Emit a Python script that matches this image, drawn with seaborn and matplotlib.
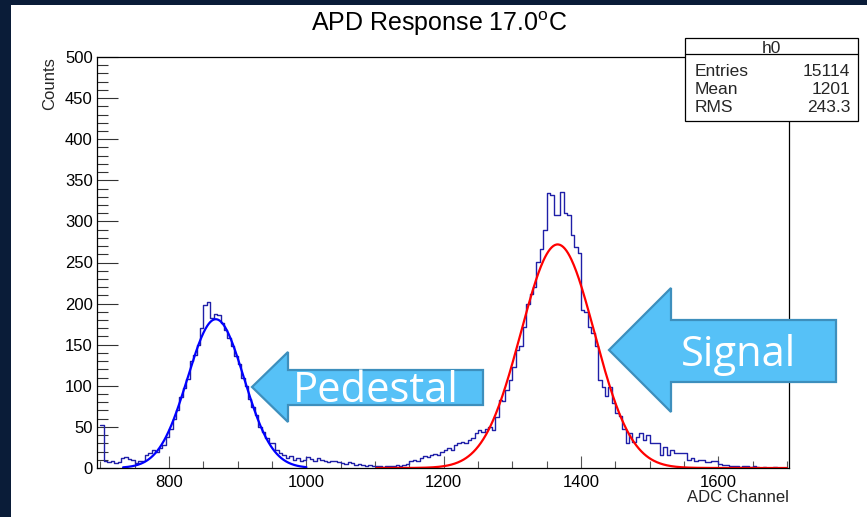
import numpy as np
import pandas as pd
import seaborn as sns
import matplotlib.pyplot as plt
from matplotlib.patches import Polygon, Rectangle
from matplotlib.lines import Line2D
from matplotlib.ticker import MultipleLocator

# histogram: 200 bins of width 5 starting at 700
bin_start = 700
bin_width = 5
counts = [
    52, 8, 7, 9, 6, 7, 12, 13, 11, 10, 6, 8, 9, 16, 18, 22, 20, 24, 28, 38,          # 700-795
    48, 60, 70, 86, 97, 108, 130, 138, 150, 170, 198, 202, 182, 187, 186, 176,       # 800-875
    168, 158, 148, 136, 126, 110, 100, 84, 74, 64, 50, 44, 36, 30, 30, 22,           # 880-955
    18, 16, 12, 14, 10, 12, 9, 10,                                                   # 960-995
    13, 11, 9, 12, 10, 8, 7, 9, 8, 7, 6, 5, 7, 6, 4, 5, 4, 3, 4, 3,                  # 1000-1095
    2, 2, 1, 2, 3, 2, 4, 3, 4, 5, 8, 10, 9, 12, 14, 13, 16, 17, 16, 20,              # 1100-1195
    22, 24, 22, 28, 30, 32, 30, 34, 36, 42, 46, 44, 48, 50, 46, 62, 83, 81, 95, 107, # 1200-1295
    123, 143, 149, 172, 200, 212, 220, 251, 267, 290, 334, 332, 308, 308, 336, 310,  # 1300-1375
    308, 283, 269, 261, 192, 190, 172, 164, 148, 107, 99, 87, 99, 79, 67, 63,        # 1380-1455
    47, 30, 42, 32, 38, 42, 34, 40, 30, 30, 30, 16, 26, 16, 22, 18, 18, 18, 18, 10,  # 1460-1555
    12, 9, 10, 10, 7, 7, 8, 8, 5, 4, 4, 2, 2, 2, 1, 3, 3, 1, 2, 1,                   # 1560-1655
    0, 1, 0, 0, 1, 0, 0, 0,                                                          # 1660-1695
]

# gaussian fits: amplitude, mean, sigma and drawn range
ped_fit = [181.0, 868.0, 41.0]
ped_range = [733, 1000]
sig_fit = [272.0, 1366.0, 53.5]
sig_range = [1102, 1700]

stats_title = "h0"
stats_labels = ["Entries", "Mean", "RMS"]
stats_values = ["15114", "1201", "243.3"]

W, H = 867, 517


def fx(px):
    return px / W


def fy(py):
    return 1 - py / H


def gauss(p, lo, hi):
    x = np.linspace(lo, hi, 500)
    return pd.DataFrame({"x": x, "y": p[0] * np.exp(-0.5 * ((x - p[1]) / p[2]) ** 2)})


sns.set_theme(style="white")
plt.rcParams['font.family'] = ['Liberation Sans', 'DejaVu Sans']

fig = plt.figure(figsize=(W / 100, H / 100), dpi=100, facecolor='#0a1c38')
fig.add_artist(Rectangle((fx(11), 0), 1 - fx(11), fy(5), transform=fig.transFigure,
                         facecolor='white', edgecolor='none', zorder=-5))

ax = fig.add_axes([fx(97), fy(468), fx(789 - 97), (468 - 57) / H])
ax.set_facecolor('white')

edges = [bin_start + bin_width * i for i in range(len(counts) + 1)]
centers = [e + bin_width / 2 for e in edges[:-1]]
hist = pd.DataFrame({"adc": centers, "n": counts})
sns.histplot(data=hist, x="adc", weights="n", bins=edges, element="step", fill=False,
             color='#1f1fa8', linewidth=1.0, ax=ax)

ped = gauss(ped_fit, *ped_range)
sig = gauss(sig_fit, *sig_range)
sns.lineplot(data=ped, x="x", y="y", color='#0000ff', linewidth=1.6, ax=ax)
sns.lineplot(data=sig, x="x", y="y", color='#ff0000', linewidth=1.6, ax=ax)

ax.set_xlim(695, 1703)
ax.set_ylim(0, 500)
ax.set_xlabel("")
ax.set_ylabel("")
ax.xaxis.set_major_locator(MultipleLocator(200))
ax.xaxis.set_minor_locator(MultipleLocator(50))
ax.yaxis.set_major_locator(MultipleLocator(50))
ax.yaxis.set_minor_locator(MultipleLocator(10))
ax.tick_params(axis='y', which='major', direction='in', length=15, width=0.8,
               color='#333333', left=True, right=False, labelsize=12, pad=3, labelcolor='black')
ax.tick_params(axis='y', which='minor', direction='in', length=7.7, width=0.8,
               color='#333333', left=True, right=False)
ax.tick_params(axis='x', which='major', direction='in', length=9, width=0.8,
               color='#555555', bottom=True, top=False, labelsize=12, pad=5, labelcolor='black')
ax.tick_params(axis='x', which='minor', direction='in', length=4.8, width=0.8,
               color='#555555', bottom=True, top=False)
for s in ax.spines.values():
    s.set_color('black')
    s.set_linewidth(0.9)

fig.text(fx(439), fy(31.5), "APD Response 17.0$^{\\mathregular{o}}$C", ha='center', va='baseline',
         fontsize=18, color='black')
fig.text(fx(50), fy(57), "Counts", rotation=90, ha='center', va='top', fontsize=12)
fig.text(fx(789), fy(497), "ADC Channel", ha='right', va='center', fontsize=12)

# stats box
fig.add_artist(Rectangle((fx(685), fy(121)), fx(858 - 685), (121 - 38) / H,
                         transform=fig.transFigure, facecolor='white', edgecolor='black',
                         linewidth=0.9, zorder=5))
fig.add_artist(Line2D([fx(685), fx(858)], [fy(54), fy(54)], transform=fig.transFigure,
                      color='black', linewidth=0.9, zorder=6))
fig.text(fx(771.5), fy(53), stats_title, ha='center', va='baseline', fontsize=12.5, zorder=7)
for i, (lab, val) in enumerate(zip(stats_labels, stats_values)):
    base = 76 + i * 17.8
    fig.text(fx(695), fy(base), lab, ha='left', va='baseline', fontsize=12.5, zorder=7)
    fig.text(fx(850), fy(base), val, ha='right', va='baseline', fontsize=12.5, zorder=7)

# annotation arrows
arrow_fill = '#56c1f7'
arrow_edge = '#3d8fbd'
ped_arrow = [(252, 387), (288, 352), (288, 370), (483, 370), (483, 405), (288, 405), (288, 422)]
sig_arrow = [(609, 350), (671, 288), (671, 320), (836, 320), (836, 382), (671, 382), (671, 412)]
for pts in (ped_arrow, sig_arrow):
    fig.add_artist(Polygon([(fx(x), fy(y)) for x, y in pts], closed=True,
                           transform=fig.transFigure, facecolor=arrow_fill,
                           edgecolor=arrow_edge, linewidth=1.6, zorder=8))
fig.text(fx(376), fy(402.5), "Pedestal", ha='center', va='baseline', color='white',
         fontsize=30, family='Open Sans', zorder=9)
fig.text(fx(738), fy(366.5), "Signal", ha='center', va='baseline', color='white',
         fontsize=30, family='Open Sans', zorder=9)

fig.savefig("out.png", dpi=100, facecolor=fig.get_facecolor())
